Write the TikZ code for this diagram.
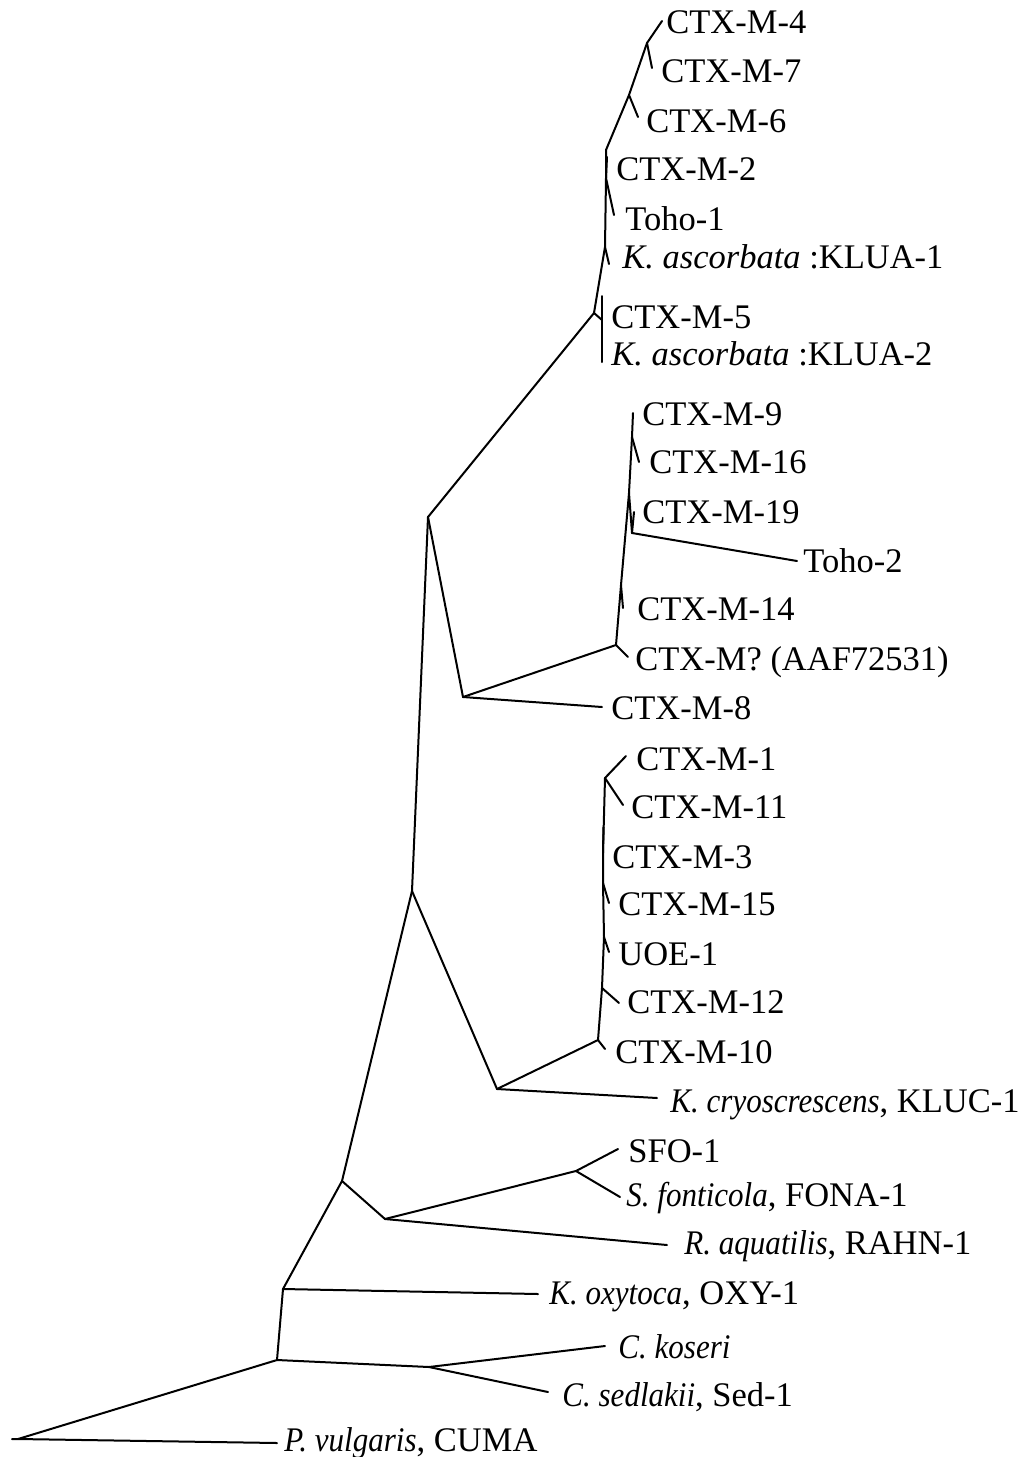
\documentclass[tikz,border=0pt]{standalone}
\usepackage{graphicx}
\usepackage{fontspec}
\setmainfont{Liberation Serif}
\newcommand{\spname}[1]{\scalebox{0.9}[1]{\textit{#1}}}
\begin{document}
\begin{tikzpicture}[x=0.5pt,y=-0.5pt,
  br/.style={line width=1pt, line cap=round, line join=round},
  lab/.style={anchor=base west, inner sep=0pt, font=\fontsize{17.25}{20}\selectfont}]
\useasboundingbox (0,0) rectangle (1018,1457);
% ---- coordinates (internal nodes and leaf ends)
\coordinate (stub) at (12,1439);
\coordinate (r) at (18,1439);
\coordinate (Lpv) at (277,1443);
\coordinate (n1) at (277,1360);
\coordinate (n2) at (283,1289);
\coordinate (nC) at (429,1367);
\coordinate (Lck) at (605,1346);
\coordinate (Lcs) at (548,1392);
\coordinate (Lko) at (538,1294);
\coordinate (n3) at (342,1181);
\coordinate (n4) at (385,1219);
\coordinate (nS) at (576,1171);
\coordinate (Lsfo) at (618,1149);
\coordinate (Lsf) at (620,1197);
\coordinate (Lra) at (667,1245);
\coordinate (n5) at (412,891);
\coordinate (n6) at (497,1089);
\coordinate (Lkc) at (657,1098);
\coordinate (k1) at (598,1040);
\coordinate (L10) at (605,1049);
\coordinate (k2) at (602,988);
\coordinate (L12) at (619,1003);
\coordinate (k3) at (604,937);
\coordinate (Luoe) at (609,952);
\coordinate (k4) at (603,883);
\coordinate (L15) at (609,903);
\coordinate (k5) at (603,853);
\coordinate (L3) at (603.5,827);
\coordinate (k6) at (605,778);
\coordinate (L1) at (626,756);
\coordinate (L11) at (623,805);
\coordinate (n7) at (428,517);
\coordinate (n8) at (463,697);
\coordinate (L8) at (602,707);
\coordinate (q1) at (616,645);
\coordinate (Lq) at (628,657);
\coordinate (q2) at (621,585);
\coordinate (L14) at (623,608);
\coordinate (q3) at (629,493);
\coordinate (q4) at (632,533);
\coordinate (L19) at (634,512);
\coordinate (Lt2) at (797,561);
\coordinate (q5) at (632,437);
\coordinate (L16) at (639,462);
\coordinate (L9) at (633,413);
\coordinate (a1) at (594,313);
\coordinate (a2) at (602,320);
\coordinate (L5) at (602,296);
\coordinate (Lk2) at (602,362);
\coordinate (a3) at (605,247);
\coordinate (Lk1) at (609,264);
\coordinate (a4) at (606,178);
\coordinate (Lt1) at (614,215);
\coordinate (L2) at (607,157);
\coordinate (a5) at (606,150);
\coordinate (a6) at (629,95);
\coordinate (L6) at (638,117);
\coordinate (a7) at (647,43);
\coordinate (L7) at (652,68);
\coordinate (L4) at (662,21);
% ---- branches
\draw[br] (stub) -- (r) -- (Lpv);
\draw[br] (r) -- (n1);
\draw[br] (n1) -- (n2);
\draw[br] (n1) -- (nC);
\draw[br] (nC) -- (Lck);
\draw[br] (nC) -- (Lcs);
\draw[br] (n2) -- (Lko);
\draw[br] (n2) -- (n3);
\draw[br] (n3) -- (n4);
\draw[br] (n4) -- (nS);
\draw[br] (nS) -- (Lsfo);
\draw[br] (nS) -- (Lsf);
\draw[br] (n4) -- (Lra);
\draw[br] (n3) -- (n5);
\draw[br] (n5) -- (n6);
\draw[br] (n6) -- (Lkc);
\draw[br] (n6) -- (k1);
\draw[br] (k1) -- (L10);
\draw[br] (k1) -- (k2) -- (k3) -- (k4) -- (k5) -- (k6);
\draw[br] (k2) -- (L12);
\draw[br] (k3) -- (Luoe);
\draw[br] (k4) -- (L15);
\draw[br] (k5) -- (L3);
\draw[br] (k6) -- (L1);
\draw[br] (k6) -- (L11);
\draw[br] (n5) -- (n7);
\draw[br] (n7) -- (n8);
\draw[br] (n8) -- (L8);
\draw[br] (n8) -- (q1);
\draw[br] (q1) -- (Lq);
\draw[br] (q1) -- (q2) -- (q3) -- (q5) -- (L9);
\draw[br] (q2) -- (L14);
\draw[br] (q3) -- (q4);
\draw[br] (q4) -- (Lt2);
\draw[br] (q4) -- (L19);
\draw[br] (q5) -- (L16);
\draw[br] (n7) -- (a1);
\draw[br] (a1) -- (a2);
\draw[br] (L5) -- (Lk2);
\draw[br] (a1) -- (a3) -- (a4) -- (a5) -- (a6) -- (a7) -- (L4);
\draw[br] (a3) -- (Lk1);
\draw[br] (a4) -- (Lt1);
\draw[br] (a4) -- (L2);
\draw[br] (a6) -- (L6);
\draw[br] (a7) -- (L7);
% ---- labels
\node[lab] (t4) at (666,33) {CTX-M-4};
\node[lab] (t7) at (661,82) {CTX-M-7};
\node[lab] (t6) at (646,132) {CTX-M-6};
\node[lab] (t2) at (616,180) {CTX-M-2};
\node[lab] (tt1) at (625,230) {Toho-1};
\node[lab] (tk1) at (622,268) {\textit{K. ascorbata} :KLUA-1};
\node[lab] (t5) at (611,328) {CTX-M-5};
\node[lab] (tk2) at (611,365) {\textit{K. ascorbata} :KLUA-2};
\node[lab] (t9) at (642,425) {CTX-M-9};
\node[lab] (t16) at (649,473) {CTX-M-16};
\node[lab] (t19) at (642,523) {CTX-M-19};
\node[lab] (tt2) at (803,572) {Toho-2};
\node[lab] (t14) at (637,620) {CTX-M-14};
\node[lab] (tq) at (635,670) {CTX-M? (AAF72531)};
\node[lab] (t8) at (611,719) {CTX-M-8};
\node[lab] (t1) at (636,770) {CTX-M-1};
\node[lab] (t11) at (631,818) {CTX-M-11};
\node[lab] (t3) at (612,868) {CTX-M-3};
\node[lab] (t15) at (618,915) {CTX-M-15};
\node[lab] (tuoe) at (618,965) {UOE-1};
\node[lab] (t12) at (627,1013) {CTX-M-12};
\node[lab] (t10) at (615,1063) {CTX-M-10};
\node[lab] (tkc) at (670,1112) {\spname{K. cryoscrescens}, KLUC-1};
\node[lab] (tsfo) at (628,1162) {SFO-1};
\node[lab] (tsf) at (626,1206) {\spname{S. fonticola}, FONA-1};
\node[lab] (tra) at (684,1254) {\spname{R. aquatilis}, RAHN-1};
\node[lab] (tko) at (549,1304) {\spname{K. oxytoca}, OXY-1};
\node[lab] (tck) at (618,1358) {\spname{C. koseri}};
\node[lab] (tcs) at (562,1406) {\spname{C. sedlakii}, Sed-1};
\node[lab] (tpv) at (284,1451) {\spname{P. vulgaris}, CUMA};
\end{tikzpicture}
\end{document}
